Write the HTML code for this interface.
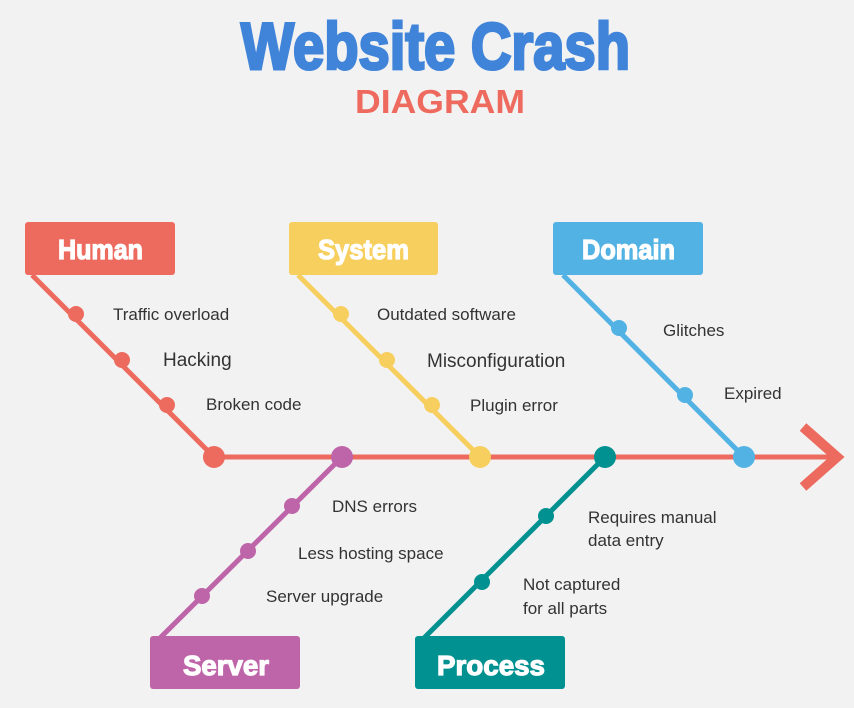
<!DOCTYPE html>
<html><head><meta charset="utf-8"><style>
html,body{margin:0;padding:0;background:#f2f2f2;}
svg{display:block}
.t{font-family:"Liberation Sans",sans-serif;font-size:17px;fill:#333;}
.b{font-family:"Liberation Sans Narrow","Liberation Sans",sans-serif;font-weight:bold;font-size:28px;fill:#fff;stroke:#fff;stroke-width:1.2px;}
</style></head><body>
<svg width="854" height="708" viewBox="0 0 854 708">
<rect width="854" height="708" fill="#f2f2f2"/>
<text x="241" y="69" textLength="389" lengthAdjust="spacingAndGlyphs" style="font-family:'Liberation Sans Narrow','Liberation Sans',sans-serif;font-weight:bold;font-size:66px;fill:#4084DA;stroke:#4084DA;stroke-width:3px">Website Crash</text>
<text x="355" y="113" textLength="170" lengthAdjust="spacingAndGlyphs" style="font-family:'Liberation Sans',sans-serif;font-weight:bold;font-size:33px;fill:#EE6A5E">DIAGRAM</text>

<line x1="214" y1="457" x2="832" y2="457" stroke="#ED6B5E" stroke-width="5"/>
<polyline points="803,427 837,457 803,487" fill="none" stroke="#ED6B5E" stroke-width="10"/>

<g stroke-width="5" fill="none">
<line x1="32" y1="275" x2="214" y2="457" stroke="#ED6B5E"/>
<line x1="298" y1="275" x2="480" y2="457" stroke="#F7CF5E"/>
<line x1="563" y1="275" x2="744" y2="457" stroke="#52B2E4"/>
<line x1="342" y1="457" x2="160" y2="638" stroke="#BE64A8"/>
<line x1="605" y1="457" x2="424" y2="638" stroke="#009190"/>
</g>
<g fill="#ED6B5E"><circle cx="76" cy="314" r="8"/><circle cx="122" cy="360" r="8"/><circle cx="167" cy="405" r="8"/><circle cx="214" cy="457" r="11"/></g>
<g fill="#F7CF5E"><circle cx="341" cy="314" r="8"/><circle cx="387" cy="360" r="8"/><circle cx="432" cy="405" r="8"/><circle cx="480" cy="457" r="11"/></g>
<g fill="#52B2E4"><circle cx="619" cy="328" r="8"/><circle cx="685" cy="395" r="8"/><circle cx="744" cy="457" r="11"/></g>
<g fill="#BE64A8"><circle cx="292" cy="506" r="8"/><circle cx="248" cy="551" r="8"/><circle cx="202" cy="596" r="8"/><circle cx="342" cy="457" r="11"/></g>
<g fill="#009190"><circle cx="546" cy="516" r="8"/><circle cx="482" cy="582" r="8"/><circle cx="605" cy="457" r="11"/></g>

<rect x="25" y="222" width="150" height="53" rx="3" fill="#ED6B5E"/>
<rect x="289" y="222" width="149" height="53" rx="3" fill="#F7CF5E"/>
<rect x="553" y="222" width="150" height="53" rx="3" fill="#52B2E4"/>
<rect x="150" y="636" width="150" height="53" rx="3" fill="#BE64A8"/>
<rect x="415" y="636" width="150" height="53" rx="3" fill="#009190"/>
<text class="b" x="58" y="259" textLength="85" lengthAdjust="spacingAndGlyphs">Human</text>
<text class="b" x="318" y="259" textLength="91" lengthAdjust="spacingAndGlyphs">System</text>
<text class="b" x="582" y="259" textLength="93" lengthAdjust="spacingAndGlyphs">Domain</text>
<text class="b" x="183" y="675" textLength="86" lengthAdjust="spacingAndGlyphs">Server</text>
<text class="b" x="437" y="675" textLength="108" lengthAdjust="spacingAndGlyphs">Process</text>

<text class="t" x="113" y="320">Traffic overload</text>
<text class="t" x="163" y="366" style="font-size:19px">Hacking</text>
<text class="t" x="206" y="410">Broken code</text>
<text class="t" x="377" y="320">Outdated software</text>
<text class="t" x="427" y="367" style="font-size:19px">Misconfiguration</text>
<text class="t" x="470" y="411">Plugin error</text>
<text class="t" x="663" y="336">Glitches</text>
<text class="t" x="724" y="399">Expired</text>
<text class="t" x="332" y="512">DNS errors</text>
<text class="t" x="298" y="559">Less hosting space</text>
<text class="t" x="266" y="602">Server upgrade</text>
<text class="t" x="588" y="523">Requires manual</text>
<text class="t" x="588" y="546">data entry</text>
<text class="t" x="523" y="590">Not captured</text>
<text class="t" x="523" y="614">for all parts</text>
</svg>
</body></html>
